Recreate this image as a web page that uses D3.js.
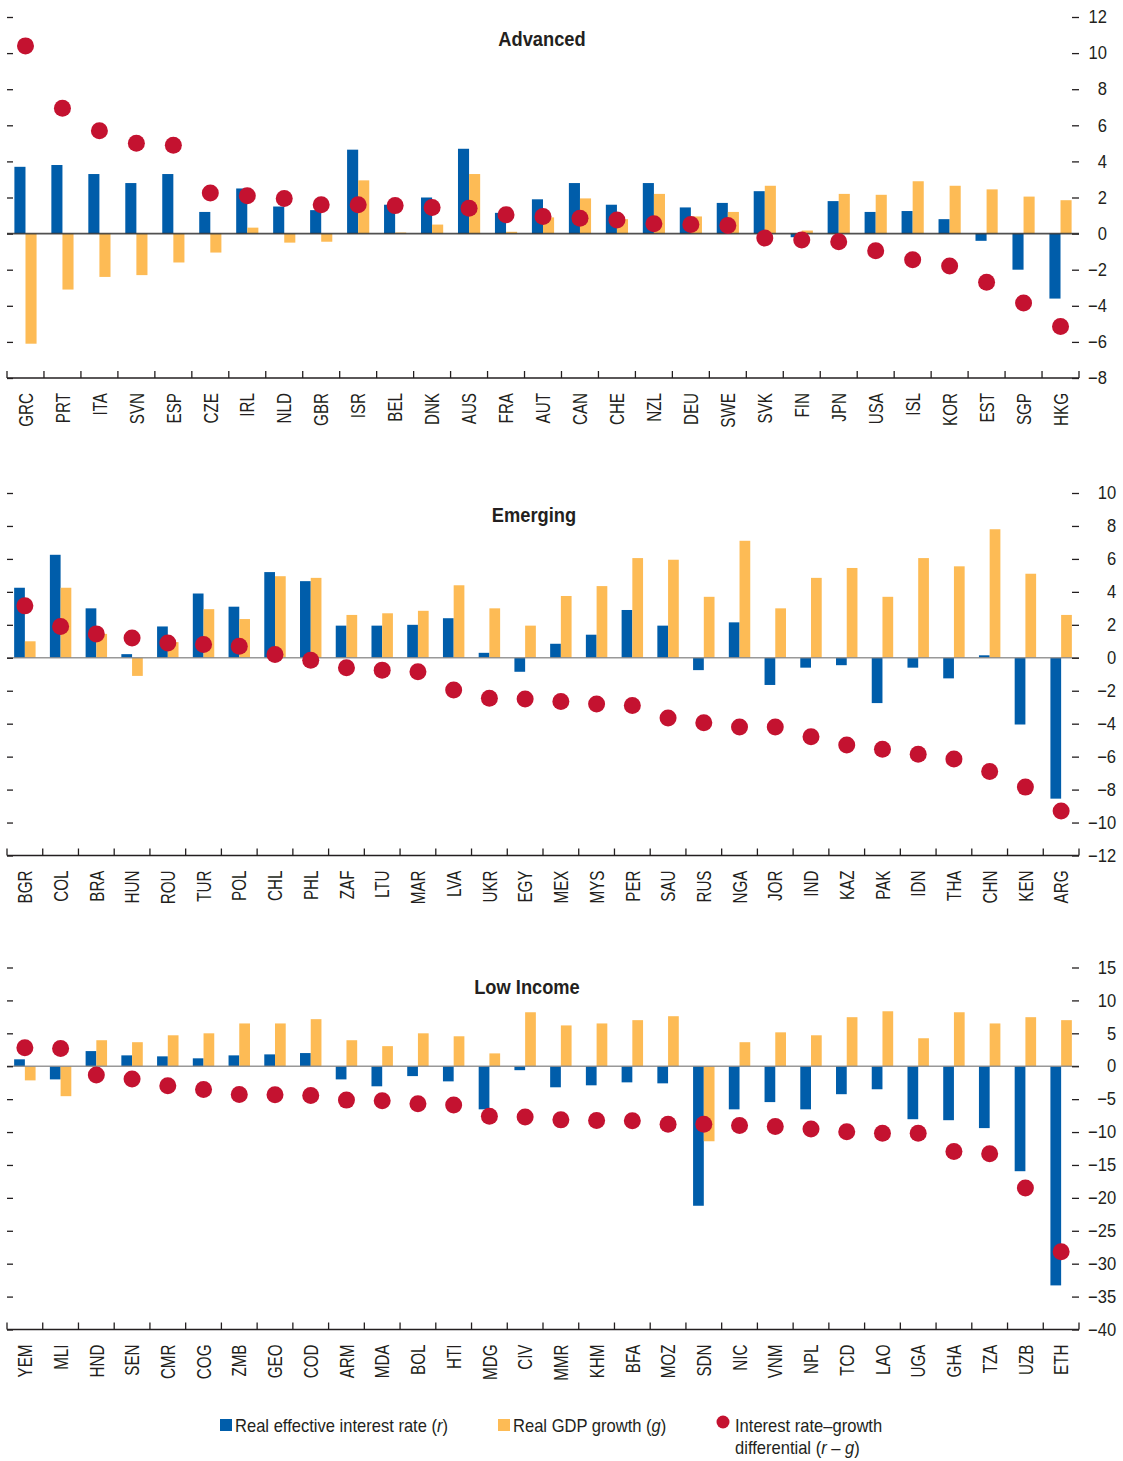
<!DOCTYPE html>
<html>
<head>
<meta charset="utf-8">
<script src="https://cdn.jsdelivr.net/npm/d3@7"></script>
<style>
  body { margin: 0; background: #fff; }
  text { font-family: "Liberation Sans Narrow", "Arial Narrow", "Liberation Sans", sans-serif; fill: #231f20; }
</style>
</head>
<body>
<svg id="chart" width="1123" height="1461"></svg>
<script>
// ---- data (percent) ----
const advCountries = ["GRC","PRT","ITA","SVN","ESP","CZE","IRL","NLD","GBR","ISR","BEL","DNK","AUS","FRA","AUT","CAN","CHE","NZL","DEU","SWE","SVK","FIN","JPN","USA","ISL","KOR","EST","SGP","HKG"];
const advR  = [3.7, 3.8, 3.3, 2.8, 3.3, 1.2, 2.5, 1.5, 1.3, 4.65, 1.6, 2.0, 4.7, 1.15, 1.9, 2.8, 1.6, 2.8, 1.45, 1.7, 2.35, -0.2, 1.8, 1.2, 1.25, 0.8, -0.4, -2.0, -3.6];
const advG  = [-6.1, -3.1, -2.4, -2.3, -1.6, -1.05, 0.33, -0.5, -0.45, 2.95, 0.06, 0.5, 3.3, 0.1, 0.9, 1.95, 0.8, 2.2, 0.95, 1.2, 2.65, 0.17, 2.2, 2.15, 2.9, 2.65, 2.45, 2.05, 1.85];
const advRG = [10.4, 6.95, 5.7, 5.0, 4.9, 2.25, 2.1, 1.95, 1.6, 1.6, 1.55, 1.45, 1.4, 1.05, 0.95, 0.85, 0.75, 0.55, 0.5, 0.45, -0.25, -0.35, -0.45, -0.95, -1.45, -1.8, -2.7, -3.85, -5.15];

const emCountries = ["BGR","COL","BRA","HUN","ROU","TUR","POL","CHL","PHL","ZAF","LTU","MAR","LVA","UKR","EGY","MEX","MYS","PER","SAU","RUS","NGA","JOR","IND","KAZ","PAK","IDN","THA","CHN","KEN","ARG"];
const emR  = [4.25, 6.25, 3.0, 0.22, 1.9, 3.9, 3.1, 5.2, 4.65, 1.95, 1.95, 2.0, 2.4, 0.3, -0.85, 0.85, 1.4, 2.9, 1.95, -0.75, 2.15, -1.65, -0.6, -0.45, -2.75, -0.6, -1.25, 0.15, -4.05, -8.55];
const emG  = [1.0, 4.25, 1.45, -1.1, 0.95, 2.95, 2.35, 4.95, 4.85, 2.6, 2.7, 2.85, 4.4, 3.0, 1.95, 3.75, 4.35, 6.05, 5.95, 3.7, 7.1, 3.0, 4.85, 5.45, 3.7, 6.05, 5.55, 7.8, 5.1, 2.6];
const emRG = [3.15, 1.9, 1.45, 1.2, 0.9, 0.8, 0.7, 0.2, -0.15, -0.6, -0.75, -0.85, -1.95, -2.45, -2.5, -2.65, -2.8, -2.9, -3.65, -3.95, -4.2, -4.2, -4.8, -5.3, -5.55, -5.85, -6.15, -6.9, -7.85, -9.3];

const liCountries = ["YEM","MLI","HND","SEN","CMR","COG","ZMB","GEO","COD","ARM","MDA","BOL","HTI","MDG","CIV","MMR","KHM","BFA","MOZ","SDN","NIC","VNM","NPL","TCD","LAO","UGA","GHA","TZA","UZB","ETH"];
const liR  = [1.05, -2.0, 2.3, 1.65, 1.5, 1.2, 1.65, 1.8, 2.0, -2.0, -3.05, -1.5, -2.3, -6.55, -0.6, -3.2, -2.9, -2.45, -2.6, -21.2, -6.55, -5.45, -6.55, -4.25, -3.5, -8.05, -8.2, -9.4, -15.95, -33.3];
const liG  = [-2.15, -4.55, 3.95, 3.65, 4.7, 5.0, 6.5, 6.5, 7.15, 3.95, 3.05, 5.0, 4.55, 1.95, 8.2, 6.2, 6.5, 7.0, 7.6, -11.4, 3.65, 5.15, 4.7, 7.45, 8.35, 4.25, 8.2, 6.5, 7.45, 7.0];
const liRG = [2.8, 2.7, -1.35, -1.95, -2.95, -3.55, -4.3, -4.35, -4.45, -5.15, -5.25, -5.7, -5.9, -7.6, -7.7, -8.15, -8.25, -8.3, -8.8, -8.8, -9.0, -9.15, -9.55, -9.95, -10.2, -10.2, -12.95, -13.3, -18.5, -28.2];

const panelTitles = ["Advanced", "Emerging", "Low Income"];
const legendLabels = ["Real effective interest rate", "Real GDP growth", "Interest rate\u2013growth", "differential"];

// ---- styling / layout ----
const BLUE = "#005DAA", ORANGE = "#FDBB55", RED = "#C41230", INK = "#231f20";
const left = 7, right = 1079;

const panels = [
  { title: panelTitles[0], countries: advCountries, r: advR, g: advG, rg: advRG,
    domain: [-8, 12], step: 2, top: 17, bottom: 378, titleX: 542, titleY: 46, zero: "#333" },
  { title: panelTitles[1], countries: emCountries, r: emR, g: emG, rg: emRG,
    domain: [-12, 10], step: 2, top: 493, bottom: 855.5, titleX: 534, titleY: 522, zero: "#888" },
  { title: panelTitles[2], countries: liCountries, r: liR, g: liG, rg: liRG,
    domain: [-40, 15], step: 5, top: 967.5, bottom: 1329.5, titleX: 527, titleY: 994, zero: "#888" }
];

// the original uses a condensed face; squeeze text along its baseline
function condense(sel, k) {
  sel.each(function() {
    const w = this.getComputedTextLength();
    d3.select(this).attr("textLength", w * k).attr("lengthAdjust", "spacingAndGlyphs");
  });
}

const svg = d3.select("#chart");

panels.forEach(function(p) {
  const g = svg.append("g");

  const x = d3.scaleBand().domain(p.countries).range([left, right]).padding(0);
  const y = d3.scaleLinear().domain(p.domain).range([p.bottom, p.top]);
  const bw = x.bandwidth() * 0.3;
  const cx = d => x(d) + x.bandwidth() / 2;

  const rows = p.countries.map((c, i) => ({ c: c, r: p.r[i], g: p.g[i], rg: p.rg[i] }));

  // bars
  g.selectAll(".rbar").data(rows).enter().append("rect")
    .attr("x", d => cx(d.c) - bw)
    .attr("width", bw)
    .attr("y", d => y(Math.max(0, d.r)))
    .attr("height", d => Math.abs(y(d.r) - y(0)))
    .attr("fill", BLUE);

  g.selectAll(".gbar").data(rows).enter().append("rect")
    .attr("x", d => cx(d.c))
    .attr("width", bw)
    .attr("y", d => y(Math.max(0, d.g)))
    .attr("height", d => Math.abs(y(d.g) - y(0)))
    .attr("fill", ORANGE);

  // zero line
  g.append("line")
    .attr("x1", left).attr("x2", right)
    .attr("y1", y(0)).attr("y2", y(0))
    .attr("stroke", p.zero).attr("stroke-width", 1.6).attr("opacity", 0.85);

  // dots
  g.selectAll(".dot").data(rows).enter().append("circle")
    .attr("cx", d => cx(d.c))
    .attr("cy", d => y(d.rg))
    .attr("r", 8.5)
    .attr("fill", RED);

  // y ticks
  const tickVals = d3.range(p.domain[0], p.domain[1] + 0.01, p.step);

  const yr = g.append("g").attr("transform", `translate(${right},0)`)
    .call(d3.axisRight(y).tickValues(tickVals).tickSizeInner(-7).tickSizeOuter(0).tickPadding(9));
  yr.select(".domain").remove();
  yr.selectAll("line").attr("stroke", INK).attr("stroke-width", 1.3);
  yr.selectAll("text").attr("font-size", 18).attr("fill", INK).attr("font-family", null);
  condense(yr.selectAll("text"), 0.92);
  // right-align labels against the widest one
  let maxW = 0;
  yr.selectAll("text").each(function() { maxW = Math.max(maxW, +this.getAttribute("textLength")); });
  yr.selectAll("text").attr("text-anchor", "end").attr("x", 9 + maxW);

  const yl = g.append("g").attr("transform", `translate(${left},0)`)
    .call(d3.axisLeft(y).tickValues(tickVals).tickSizeInner(-6).tickSizeOuter(0));
  yl.select(".domain").remove();
  yl.selectAll("text").remove();
  yl.selectAll("line").attr("stroke", INK).attr("stroke-width", 1.3);

  // x axis
  g.append("line")
    .attr("x1", left).attr("x2", right)
    .attr("y1", p.bottom).attr("y2", p.bottom)
    .attr("stroke", INK).attr("stroke-width", 1.5);

  const bounds = p.countries.map(c => x(c)).concat([right]);
  g.selectAll(".xt").data(bounds).enter().append("line")
    .attr("x1", d => d).attr("x2", d => d)
    .attr("y1", p.bottom).attr("y2", p.bottom - 7)
    .attr("stroke", INK).attr("stroke-width", 1.3);

  const xa = g.append("g").attr("transform", `translate(0,${p.bottom})`)
    .call(d3.axisBottom(x).tickSize(0).tickPadding(0));
  xa.select(".domain").remove();
  xa.selectAll("text")
    .attr("font-size", 20).attr("fill", INK).attr("font-family", null)
    .attr("text-anchor", "end")
    .attr("transform", "rotate(-90)")
    .attr("x", -15).attr("y", 0).attr("dy", "0.36em");
  condense(xa.selectAll("text"), 0.76);

  // title
  const tt = g.append("text")
    .attr("x", p.titleX).attr("y", p.titleY)
    .attr("text-anchor", "middle")
    .attr("font-size", 21).attr("font-weight", "bold")
    .text(p.title);
  condense(tt, 0.87);
});

// ---- legend ----
const lg = svg.append("g").attr("font-size", 18);

function legendText(x, y) {
  return lg.append("text").attr("transform", `translate(${x},${y}) scale(0.92,1)`);
}

lg.append("rect").attr("x", 220).attr("y", 1419).attr("width", 12).attr("height", 12).attr("fill", BLUE);
const t1 = legendText(235, 1432);
t1.append("tspan").text(legendLabels[0] + " (");
t1.append("tspan").attr("font-style", "italic").text("r");
t1.append("tspan").text(")");

lg.append("rect").attr("x", 498).attr("y", 1419).attr("width", 12).attr("height", 12).attr("fill", ORANGE);
const t2 = legendText(513, 1432);
t2.append("tspan").text(legendLabels[1] + " (");
t2.append("tspan").attr("font-style", "italic").text("g");
t2.append("tspan").text(")");

lg.append("circle").attr("cx", 723).attr("cy", 1422).attr("r", 6.5).attr("fill", RED);
legendText(735, 1432).text(legendLabels[2]);
const t3 = legendText(735, 1454);
t3.append("tspan").text(legendLabels[3] + " (");
t3.append("tspan").attr("font-style", "italic").text("r");
t3.append("tspan").text(" \u2013 ");
t3.append("tspan").attr("font-style", "italic").text("g");
t3.append("tspan").text(")");
</script>
</body>
</html>
